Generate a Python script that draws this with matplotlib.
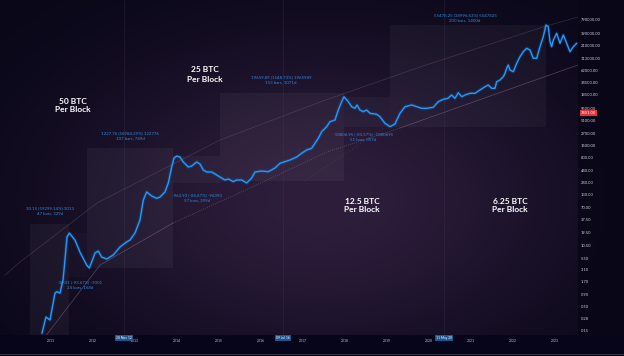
import numpy as np
import matplotlib
matplotlib.use("Agg")
import matplotlib.pyplot as plt
from matplotlib.patches import Rectangle
from matplotlib.ticker import NullLocator

W, H = 624, 356

# ---- price series (decimal year, price) ----
years = [2010.786, 2010.881, 2010.976, 2011.095, 2011.135, 2011.214, 2011.286, 2011.310,
         2011.381, 2011.436, 2011.571, 2011.690, 2011.850, 2011.912, 2011.969, 2012.048,
         2012.126, 2012.207, 2012.326, 2012.483, 2012.643, 2012.802, 2012.881, 2013.000,
         2013.119, 2013.198, 2013.279, 2013.398, 2013.517, 2013.595, 2013.714, 2013.793,
         2013.874, 2013.929, 2013.993, 2014.071, 2014.150, 2014.269, 2014.350, 2014.469,
         2014.548, 2014.626, 2014.707, 2014.826, 2014.945, 2015.064, 2015.143, 2015.221,
         2015.340, 2015.421, 2015.540, 2015.660, 2015.779, 2015.857, 2016.017, 2016.174,
         2016.333, 2016.452, 2016.571, 2016.690, 2016.850, 2016.969, 2017.088, 2017.207,
         2017.286, 2017.364, 2017.445, 2017.564, 2017.643, 2017.762, 2017.840, 2017.921,
         2017.976, 2018.079, 2018.160, 2018.238, 2018.286, 2018.357, 2018.436, 2018.517,
         2018.595, 2018.755, 2018.833, 2018.952, 2019.071, 2019.190, 2019.310, 2019.429,
         2019.588, 2019.707, 2019.826, 2019.945, 2020.102, 2020.221, 2020.340, 2020.452,
         2020.540, 2020.619, 2020.698, 2020.779, 2020.857, 2020.976, 2021.095, 2021.214,
         2021.333, 2021.412, 2021.493, 2021.571, 2021.612, 2021.690, 2021.769, 2021.810,
         2021.850, 2021.888, 2021.929, 2022.007, 2022.088, 2022.167, 2022.245, 2022.326,
         2022.405, 2022.483, 2022.564, 2022.643, 2022.721, 2022.786, 2022.840, 2022.881,
         2022.921, 2022.960, 2023.040, 2023.119, 2023.198, 2023.279, 2023.357, 2023.436,
         2023.517]
prices = [0.135, 0.299, 0.258, 0.98, 1.05, 0.98, 1.87, 3.08,
          15.8, 19.3, 13.6, 7.5, 3.94, 3.40, 4.58, 7.16,
          7.9, 5.87, 5.32, 6.49, 9.64, 12.4, 13.6, 19.3,
          36.8, 99.3, 148, 121, 108, 115, 148, 231,
          511, 798, 881, 839, 655, 511, 537, 655,
          593, 441, 399, 399, 344, 296, 268, 282,
          247, 268, 268, 231, 296, 399, 419, 405,
          486, 614, 665, 723, 839, 1009, 1189, 1291,
          1656, 2123, 2944, 3776, 4842, 5260, 8650, 13060,
          16710, 13060, 10190, 9400, 11090, 8650, 7940, 8650,
          7350, 6980, 6190, 4470, 3776, 4315, 7350, 10190,
          11090, 10190, 9400, 9400, 9890, 13060, 14690, 15450,
          18200, 15450, 20420, 16710, 18200, 19820, 19820, 23330,
          27480, 29920, 25350, 25350, 35240, 38280, 45080, 53460,
          68470, 80720, 62950, 57810, 87700, 121800, 156000, 184900,
          169800, 112500, 112500, 200000, 328900, 587500, 539500, 256400,
          200000, 278600, 389000, 236600, 357300, 236600, 156000, 200000,
          236600]

# ---- faint band curves ----
upper_years = [2009.905, 2010.262, 2012.095, 2015.024, 2017.405, 2019.786, 2022.714, 2023.548]
upper_prices = [2.40, 4.58, 85.5, 1950, 12850, 73100, 532000, 873000]
lower_years = [2010.857, 2012.167, 2013.905, 2015.738, 2017.571, 2019.310, 2021.524, 2023.548]
lower_prices = [0.111, 3.94, 31.7, 180, 1076, 3540, 18200, 80720]
extra_years = [2017.048, 2018.952]
extra_prices = [255, 3715]

# ---- measurement boxes: (start year, end year, low price, high price) ----
box_start = [2010.50, 2011.42, 2011.86, 2013.90, 2015.02, 2017.98, 2019.07]
box_end = [2011.42, 2011.86, 2013.90, 2015.02, 2017.98, 2019.07, 2022.79]
box_low = [0.05, 2.2, 3.4, 231, 250, 3780, 3780]
box_high = [30.2, 19.3, 1300, 881, 19900, 16700, 590000]
box_alpha = [0.045, 0.02, 0.045, 0.035, 0.045, 0.03, 0.04]

box_line1 = ["30.15 (59299.14%) 3013", "-30.01 (-93.67%) -3001", "1227.76 (56984.29%) 122776",
             "-963.93 (-85.67%) -96393", "19659.89 (1548.73%) 1965989",
             "-18806.95 (-83.57%) -1880695", "55478.25 (38996.63%) 5547825"]
box_line2 = ["47 bars, 329d", "24 bars, 168d", "107 bars, 749d", "57 bars, 399d",
             "153 bars, 1071d", "51 bars, 357d", "200 bars, 1400d"]
box_text_px = [(50, 208), (80, 282), (130, 133), (197, 195), (281, 77), (363, 134), (465, 15)]

# ---- era labels ----
era_titles = ["50 BTC", "25 BTC", "12.5 BTC", "6.25 BTC"]
era_px = [(73, 101), (205, 70), (362, 201), (510, 201)]

# ---- halvings ----
halving_years = [2012.74, 2016.52, 2020.36]
halving_labels = ["28 Nov 12", "09 Jul 16", "11 May 20"]

# ---- axis ticks ----
year_ticks = list(range(2011, 2024))
year_labels = [str(y) for y in year_ticks]
y_ticks = [790000, 390000, 210000, 113000, 62000, 34500, 18500, 9500, 5100, 2700, 1500,
           800, 440, 240, 130, 70, 37.5, 19.5, 10.5, 5.5, 3.1, 1.7, 0.9, 0.5, 0.28, 0.15]
y_labels = ["%.2f" % v for v in y_ticks]
last_price_label = "7451.00"

plt.rcParams['font.family'] = ['Lato', 'DejaVu Sans']

fig = plt.figure(figsize=(W / 100, H / 100), dpi=100)
fig.patch.set_facecolor('#080617')

# background glow
bg = fig.add_axes([0, 0, 1, 1])
bg.set_axis_off()
yy, xx = np.mgrid[0:H, 0:W]
edge = np.array([0x08, 0x06, 0x17]) / 255
center = np.array([0x2e, 0x1e, 0x3c]) / 255
g = np.exp(-(((xx - 320) / 270.0) ** 2 + ((yy - 200) / 170.0) ** 2) * 1.1)
img = edge[None, None, :] + (center - edge)[None, None, :] * g[:, :, None]
bg.imshow(img, extent=[0, W, H, 0], aspect='auto', interpolation='bilinear')
bg.add_patch(Rectangle((578, 0), W - 578, H, color='#080617', alpha=0.85, lw=0))
bg.add_patch(Rectangle((0, 335), W, H - 335, color='#06051a', alpha=0.95, lw=0))
bg.plot([0, W], [354, 354], color='#3a3a48', lw=0.6)
bg.set_xlim(0, W)
bg.set_ylim(H, 0)

ax = fig.add_axes([0, (H - 335) / H, 578 / W, 335 / H])
ax.set_facecolor('none')
for s in ax.spines.values():
    s.set_visible(False)
ax.set_yscale('log')
ax.set_xlim(2009.786, 2023.548)
ax.set_ylim(0.1225, 2.03e6)

# boxes
for x0, x1, lo, hi, a in zip(box_start, box_end, box_low, box_high, box_alpha):
    ax.add_patch(Rectangle((x0, lo), x1 - x0, hi - lo, facecolor='white', alpha=a, lw=0, zorder=1))

# halving lines
for hx in halving_years:
    ax.axvline(hx, color='#4a3d60', lw=0.5, alpha=0.35, zorder=1)

# bands
band_c = '#9a7a9e'
ax.plot(upper_years, upper_prices, color=band_c, lw=0.5, alpha=0.3, zorder=2)
ax.plot(lower_years[:3], lower_prices[:3], color=band_c, lw=0.5, alpha=0.5, zorder=2)
ax.plot(lower_years[2:6], lower_prices[2:6], color=band_c, lw=0.6, alpha=0.55,
        linestyle=(0, (1, 1.5)), zorder=2)
ax.plot(lower_years[5:], lower_prices[5:], color=band_c, lw=0.5, alpha=0.5, zorder=2)
ax.plot(extra_years, extra_prices, color=band_c, lw=0.6, alpha=0.3,
        linestyle=(0, (1, 3)), zorder=2)

# price line with glow
ax.plot(years, prices, color='#1e8fff', lw=2.6, alpha=0.15, zorder=3, solid_capstyle='round')
ax.plot(years, prices, color='#1e9bff', lw=1.0, zorder=4, solid_joinstyle='round')

# ticks
ax.set_xticks(year_ticks)
ax.set_xticklabels(year_labels)
ax.tick_params(axis='x', length=0, pad=3, labelsize=2.4, colors='#c8c8d4')
ax.yaxis.set_minor_locator(NullLocator())
ax.set_yticks(y_ticks)
ax.set_yticklabels(y_labels)
ax.yaxis.tick_right()
ax.tick_params(axis='y', length=0, pad=2, labelsize=2.9, colors='#d0d0da')


def fpx(x, y):
    return x / W, 1 - y / H


# annotations
for (px, py), l1, l2 in zip(box_text_px, box_line1, box_line2):
    fig.text(*fpx(px, py), l1, ha='center', va='center', fontsize=3.2, color='#2f86d8')
    fig.text(*fpx(px, py + 5.5), l2, ha='center', va='center', fontsize=3.2, color='#2f86d8')

for (px, py), t in zip(era_px, era_titles):
    fig.text(*fpx(px, py), t, ha='center', va='center', fontsize=6.0, color='white',
             fontweight='bold')
    fig.text(*fpx(px, py + 9), "Per Block", ha='center', va='center', fontsize=6.0,
             color='white', fontweight='bold')

# halving date tags
for hx, lab in zip(halving_years, halving_labels):
    xfig = ax.transData.transform((hx, 1))[0] / W
    fig.text(xfig, 1 - 338 / H, lab, ha='center', va='center', fontsize=2.4, color='white',
             bbox=dict(boxstyle='square,pad=0.35', fc='#1d5590', ec='none'))

# last price tag
fig.text(*fpx(581, 113), last_price_label, ha='left', va='center', fontsize=2.9, color='white',
         bbox=dict(boxstyle='square,pad=0.3', fc='#e0323e', ec='none'))

fig.savefig('out.png', dpi=100, facecolor=fig.get_facecolor())
